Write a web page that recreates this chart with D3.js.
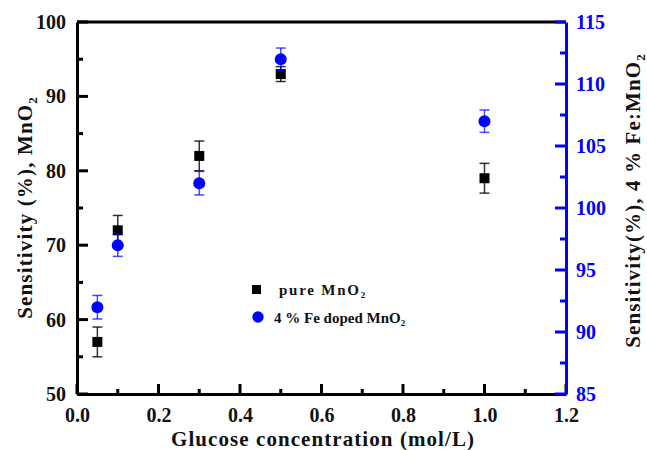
<!DOCTYPE html>
<html>
<head>
<meta charset="utf-8">
<script src="https://cdn.jsdelivr.net/npm/d3@7"></script>
<style>
  body { margin:0; background:#fff; }
  text { font-family: "Liberation Serif", "Times New Roman", serif; font-weight:bold; }
</style>
</head>
<body>
<svg id="chart" width="647" height="450"></svg>
<script>
// glucose concentration (mol/L)
var concentration = [0.05, 0.1, 0.3, 0.5, 1.0];
// pure MnO2 sensitivity (%) and error
var pureMnO2 = [57, 72, 82, 93, 79];
var pureErr = [2, 2, 2, 1, 2];
// 4 % Fe doped MnO2 sensitivity (%) and error
var feMnO2 = [92, 97, 102, 112, 107];
var feErr = [0.95, 0.9, 0.95, 0.9, 0.9];

var xTicks = [0.0, 0.2, 0.4, 0.6, 0.8, 1.0, 1.2];
var yLeftTicks = [50, 60, 70, 80, 90, 100];
var yRightTicks = [85, 90, 95, 100, 105, 110, 115];

var svg = d3.select('#chart');
var margin = { left:77, right:81, top:22, bottom:56 };
var W = 647, H = 450;

var x = d3.scaleLinear().domain([0, 1.2]).range([margin.left, W - margin.right]);
var yL = d3.scaleLinear().domain([50, 100]).range([H - margin.bottom, margin.top]);
var yR = d3.scaleLinear().domain([85, 115]).range([H - margin.bottom, margin.top]);

var x0 = x.range()[0], x1 = x.range()[1];
var yb = yL.range()[0], yt = yL.range()[1];
var blue = '#0000ff';

// frame
svg.append('line').attr('x1', x0).attr('x2', x1).attr('y1', yt).attr('y2', yt)
  .attr('stroke', '#000').attr('stroke-width', 3);

// bottom axis
var xAxis = d3.axisBottom(x).tickValues(xTicks).tickFormat(d3.format('.1f')).tickSize(0).tickPadding(14);
var gx = svg.append('g').attr('transform', 'translate(0,' + yb + ')').call(xAxis);
gx.select('.domain').attr('stroke-width', 3);
gx.selectAll('text').attr('font-size', 20).attr('fill', '#111');
gx.selectAll('.major').data(xTicks).enter().append('line')
  .attr('x1', function(d){ return x(d); }).attr('x2', function(d){ return x(d); })
  .attr('y1', 0).attr('y2', -10).attr('stroke', '#000').attr('stroke-width', 3);
gx.selectAll('.minor').data(d3.range(0.1, 1.2, 0.2)).enter().append('line')
  .attr('x1', function(d){ return x(d); }).attr('x2', function(d){ return x(d); })
  .attr('y1', 0).attr('y2', -5).attr('stroke', '#000').attr('stroke-width', 3);

// left axis
var yAxisL = d3.axisLeft(yL).tickValues(yLeftTicks).tickSize(0).tickPadding(11);
var gl = svg.append('g').attr('transform', 'translate(' + x0 + ',0)').call(yAxisL);
gl.select('.domain').attr('stroke-width', 3);
gl.selectAll('text').attr('font-size', 20).attr('fill', '#111');
gl.selectAll('.major').data(yLeftTicks).enter().append('line')
  .attr('y1', function(d){ return yL(d); }).attr('y2', function(d){ return yL(d); })
  .attr('x1', 0).attr('x2', 11).attr('stroke', '#000').attr('stroke-width', 3);
gl.selectAll('.minor').data([55, 65, 75, 85, 95]).enter().append('line')
  .attr('y1', function(d){ return yL(d); }).attr('y2', function(d){ return yL(d); })
  .attr('x1', 0).attr('x2', 6).attr('stroke', '#000').attr('stroke-width', 3);

// right axis (blue)
var yAxisR = d3.axisRight(yR).tickValues(yRightTicks).tickSize(0).tickPadding(10);
var gr = svg.append('g').attr('transform', 'translate(' + x1 + ',0)').call(yAxisR);
gr.select('.domain').attr('stroke', blue).attr('stroke-width', 3);
gr.selectAll('text').attr('font-size', 20).attr('fill', blue);
gr.selectAll('.major').data(yRightTicks).enter().append('line')
  .attr('y1', function(d){ return yR(d); }).attr('y2', function(d){ return yR(d); })
  .attr('x1', 0).attr('x2', -11).attr('stroke', blue).attr('stroke-width', 3);
gr.selectAll('.minor').data([87.5, 92.5, 97.5, 102.5, 107.5, 112.5]).enter().append('line')
  .attr('y1', function(d){ return yR(d); }).attr('y2', function(d){ return yR(d); })
  .attr('x1', 0).attr('x2', -6).attr('stroke', blue).attr('stroke-width', 3);

// axis titles
svg.append('text').attr('x', (x0 + x1) / 2 + 1).attr('y', 446).attr('text-anchor', 'middle')
  .attr('font-size', 21).attr('fill', '#111')
  .attr('textLength', 303).attr('lengthAdjust', 'spacing')
  .text('Glucose concentration (mol/L)');

var tl = svg.append('text').attr('transform', 'translate(32,' + ((yt + yb) / 2) + ') rotate(-90)')
  .attr('text-anchor', 'middle').attr('font-size', 21).attr('fill', '#111');
tl.append('tspan').attr('textLength', 214).attr('lengthAdjust', 'spacing').text('Sensitivity (%), MnO');
tl.append('tspan').attr('font-size', 13).attr('dy', 5).text('2');

var tr = svg.append('text').attr('transform', 'translate(640,' + 201 + ') rotate(-90)')
  .attr('text-anchor', 'middle').attr('font-size', 21).attr('fill', '#111');
tr.append('tspan').attr('textLength', 286).attr('lengthAdjust', 'spacing').text('Sensitivity(%), 4 % Fe:MnO');
tr.append('tspan').attr('font-size', 13).attr('dy', 5).text('2');

// pure MnO2 error bars and squares
var pure = concentration.map(function(c, i){ return { x:c, y:pureMnO2[i], e:pureErr[i] }; });
var fe = concentration.map(function(c, i){ return { x:c, y:feMnO2[i], e:feErr[i] }; });

function errorBars(data, scale, color, opacity) {
  var g = svg.append('g').attr('stroke', color).attr('stroke-width', 1.5).attr('stroke-opacity', opacity);
  g.selectAll('.v').data(data).enter().append('line')
    .attr('x1', function(d){ return x(d.x); }).attr('x2', function(d){ return x(d.x); })
    .attr('y1', function(d){ return scale(d.y - d.e); }).attr('y2', function(d){ return scale(d.y + d.e); });
  g.selectAll('.t').data(data).enter().append('line')
    .attr('x1', function(d){ return x(d.x) - 5; }).attr('x2', function(d){ return x(d.x) + 5; })
    .attr('y1', function(d){ return scale(d.y + d.e); }).attr('y2', function(d){ return scale(d.y + d.e); });
  g.selectAll('.b').data(data).enter().append('line')
    .attr('x1', function(d){ return x(d.x) - 5; }).attr('x2', function(d){ return x(d.x) + 5; })
    .attr('y1', function(d){ return scale(d.y - d.e); }).attr('y2', function(d){ return scale(d.y - d.e); });
}

errorBars(pure, yL, '#000', 0.8);
svg.append('g').selectAll('rect').data(pure).enter().append('rect')
  .attr('x', function(d){ return x(d.x) - 5; }).attr('y', function(d){ return yL(d.y) - 5; })
  .attr('width', 10).attr('height', 10).attr('fill', '#000');

errorBars(fe, yR, blue, 0.7);
svg.append('g').selectAll('circle').data(fe).enter().append('circle')
  .attr('cx', function(d){ return x(d.x); }).attr('cy', function(d){ return yR(d.y); })
  .attr('r', 6).attr('fill', blue);

// legend
var lg = svg.append('g');
lg.append('rect').attr('x', 252).attr('y', 285).attr('width', 9).attr('height', 9).attr('fill', '#000');
var l1 = lg.append('text').attr('x', 279).attr('y', 295).attr('font-size', 15).attr('fill', '#111');
l1.append('tspan').attr('textLength', 80).attr('lengthAdjust', 'spacing').text('pure MnO');
l1.append('tspan').attr('font-size', 9).attr('dy', 3).text('2');
lg.append('circle').attr('cx', 258).attr('cy', 317).attr('r', 5.7).attr('fill', blue);
var l2 = lg.append('text').attr('x', 274).attr('y', 323).attr('font-size', 15).attr('fill', '#111');
l2.append('tspan').text('4 % Fe doped MnO');
l2.append('tspan').attr('font-size', 9).attr('dy', 3).text('2');
</script>
</body>
</html>
